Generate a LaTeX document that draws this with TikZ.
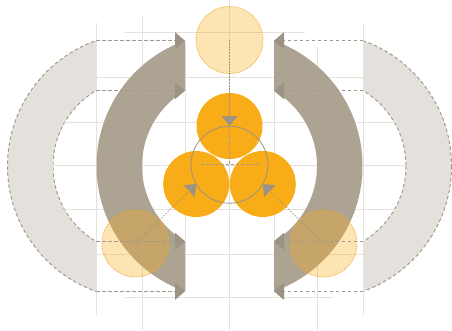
\documentclass[tikz,border=0pt]{standalone}
\usetikzlibrary{arrows.meta}

\definecolor{amber}{HTML}{F8AC18}
\definecolor{amberline}{HTML}{F2A530}
\definecolor{bandgrey}{HTML}{ACA392}
\definecolor{ghostgrey}{HTML}{E4E1DC}
\definecolor{dashgrey}{HTML}{A39A8C}
\definecolor{tipgrey}{HTML}{9C9384}
\definecolor{gridgrey}{HTML}{E5E1DB}
\definecolor{ringgrey}{HTML}{9A9285}

\tikzset{
  gridline/.style={gridgrey, line width=0.8pt},
  ghostedge/.style={dashgrey, line width=1pt, dash pattern=on 3.5pt off 2.5pt},
  bandlink/.style={dashgrey, line width=1pt, dash pattern=on 3.5pt off 2.5pt,
    -{Triangle[length=10pt,width=17pt,color=tipgrey]}},
  disc/.style={circle, fill=amber, minimum size=66pt, inner sep=0pt},
  ghostdisc/.style={circle, fill=amber, fill opacity=0.33, draw=amberline,
    line width=0.8pt, densely dotted, minimum size=67pt, inner sep=0pt},
  ringnode/.style={circle, draw=ringgrey, line width=0.8pt, minimum size=77pt, inner sep=0pt},
  movearrow/.style={tipgrey, line width=0.7pt, dash pattern=on 1.5pt off 1.5pt,
    -{Triangle[length=10pt,width=16pt]}},
  guideline/.style={dashgrey, line width=0.7pt, dash pattern=on 3pt off 2pt},
}

\begin{document}
\begin{tikzpicture}[x=1pt,y=-1pt]
  \useasboundingbox (0,0) rectangle (452,330);
  \coordinate (ctr) at (229.5,166);
  \coordinate (gctrl) at (140.5,166);
  \coordinate (gctrr) at (318.5,166);

  % ghost bands
  \begin{scope}
    \clip (0,0) rectangle (96,330);
    \fill[ghostgrey, even odd rule] (gctrl) circle[radius=133] (gctrl) circle[radius=87.5];
    \draw[ghostedge] (gctrl) circle[radius=133] (gctrl) circle[radius=87.5];
  \end{scope}
  \begin{scope}
    \clip (363,0) rectangle (452,330);
    \fill[ghostgrey, even odd rule] (gctrr) circle[radius=133] (gctrr) circle[radius=87.5];
    \draw[ghostedge] (gctrr) circle[radius=133] (gctrr) circle[radius=87.5];
  \end{scope}

  % grid
  \foreach \x/\a/\b in {52/77/254, 96/23/315, 142/15/330, 185/45/290, 229.5/0/330,
                        274/45/290, 317/47/330, 363/23/315, 407/77/254}
    \draw[gridline] (\x,\a) -- (\x,\b);
  \foreach \y/\a/\b in {32/125/305, 77/96/413, 122/42/413, 165/42/413,
                        209/42/413, 254/96/367, 297/125/333}
    \draw[gridline] (\a,\y) -- (\b,\y);

  % bands
  \begin{scope}
    \clip (0,0) rectangle (185,330);
    \fill[bandgrey, even odd rule] (ctr) circle[radius=133] (ctr) circle[radius=87.5];
  \end{scope}
  \begin{scope}
    \clip (274,0) rectangle (452,330);
    \fill[bandgrey, even odd rule] (ctr) circle[radius=133] (ctr) circle[radius=87.5];
  \end{scope}

  % discs
  \node[disc] (ptop) at (229.5,126) {};
  \node[disc] (pleft) at (196.2,184) {};
  \node[disc] (pright) at (262.8,184) {};
  \node[ringnode] (ring) at (229.5,164.7) {};
  \draw[guideline] ([xshift=-29pt]ring.center) -- ([xshift=29pt]ring.center);
  \draw[guideline] (ptop.center) -- (ring.center);

  \node[ghostdisc] (gtop) at (229.5,40) {};
  \node[ghostdisc] (gleft) at (135.5,243.5) {};
  \node[ghostdisc] (gright) at (323.5,243.5) {};

  % moves
  \draw[movearrow] (gtop.center) -- (ptop.center);
  \draw[movearrow] (gleft.center) -- (pleft.center);
  \draw[movearrow] (gright.center) -- (pright.center);

  \foreach \y [count=\i] in {40.7,90.7,241.3,291.3}{
    \coordinate (gl\i) at (96,\y);
    \coordinate (dl\i) at (185,\y);
    \coordinate (gr\i) at (363,\y);
    \coordinate (dr\i) at (274,\y);
    \draw[bandlink] (gl\i) -- (dl\i);
    \draw[bandlink] (gr\i) -- (dr\i);
  }
\end{tikzpicture}
\end{document}
